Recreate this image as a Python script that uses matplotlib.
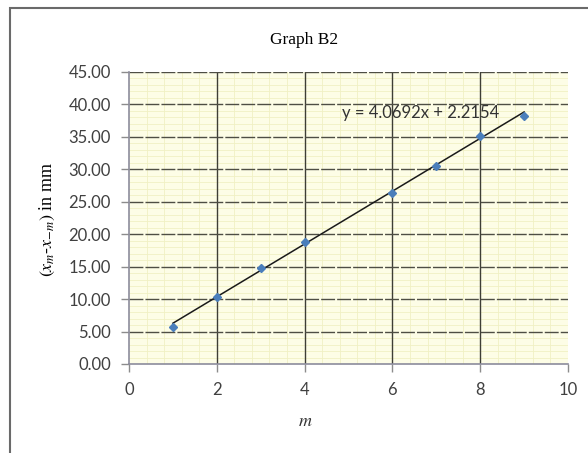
import matplotlib
matplotlib.use('Agg')
import matplotlib.pyplot as plt
import numpy as np
from matplotlib.ticker import MultipleLocator, FormatStrFormatter
from matplotlib.patches import Rectangle

# measured points (m = 5 missing in the original)
m = [1, 2, 3, 4, 6, 7, 8, 9]
dx = [5.75, 10.37, 14.74, 18.75, 26.30, 30.50, 35.13, 38.26]
# trendline as printed on the chart
slope = 4.0692
intercept = 2.2154
eq_label = 'y = 4.0692x + 2.2154'

x_major = [2, 4, 6, 8]
y_major = [5, 10, 15, 20, 25, 30, 35, 40, 45]

plt.rcParams['mathtext.fontset'] = 'stix'

fig = plt.figure(figsize=(5.88, 4.53), dpi=100)
W, H = 588, 453
ax = fig.add_axes([129 / W, 1 - 364 / H, (568 - 129) / W, (364 - 72) / H])

ax.set_facecolor('#fdfde6')
ax.set_xlim(0, 10)
ax.set_ylim(0, 45)
ax.xaxis.set_major_locator(MultipleLocator(2))
ax.xaxis.set_minor_locator(MultipleLocator(0.4))
ax.yaxis.set_major_locator(MultipleLocator(5))
ax.yaxis.set_minor_locator(MultipleLocator(1))
ax.yaxis.set_major_formatter(FormatStrFormatter('%.2f'))

# graph-paper look: faint minor grid, darker major lines on top of it
ax.grid(which='minor', color='#f0f0c4', linewidth=0.6)
ax.set_axisbelow(True)
for v in x_major:
    ax.axvline(v, color='#3e3e36', linewidth=1.0, zorder=1)
for h in y_major:
    ax.axhline(h, color='#4e4e44', linewidth=1.0, dashes=(10, 1.5), zorder=1)

for s in ['top', 'right']:
    ax.spines[s].set_visible(False)
for s in ['left', 'bottom']:
    ax.spines[s].set_color('#8c8c9c')
    ax.spines[s].set_linewidth(1.2)

ax.tick_params(which='major', length=6, width=1, color='#8c8c8c',
               labelsize=12, labelcolor='#404040', pad=7)
ax.tick_params(which='minor', length=0)
for lab in ax.get_xticklabels() + ax.get_yticklabels():
    lab.set_fontfamily('Lato')

xs = np.array([m[0], m[-1]])
ax.plot(xs, slope * xs + intercept, color='#1a1a1a', linewidth=1.1, zorder=3)
ax.plot(m, dx, linestyle='none', marker='D', markersize=4.2,
        color='#4a7ebb', markeredgecolor='#4a7ebb', zorder=4)

ax.text(4.85, 38.7, eq_label, fontsize=12, family='Lato', color='#333333',
        ha='left', va='center', zorder=5)

fig.text(304 / W, 1 - 40 / H, 'Graph B2', family='Liberation Serif',
         fontsize=12.5, ha='center', va='center')
fig.text(305 / W, 1 - 421 / H, '$m$', fontsize=13, ha='center', va='center',
         color='#333333')
fig.text(47 / W, 1 - 219 / H, r'$(x_m$-$x_{-m})$ in mm', family='Liberation Serif',
         fontsize=13, rotation=90, ha='center', va='center')

# outer frame around the chart area
fig.patches.append(Rectangle((10 / W, -0.05), 1.2, 1 - 8 / H + 0.05,
                             transform=fig.transFigure, fill=False,
                             edgecolor='#6a6a6a', linewidth=1.5))

fig.savefig('out.png', dpi=100)
